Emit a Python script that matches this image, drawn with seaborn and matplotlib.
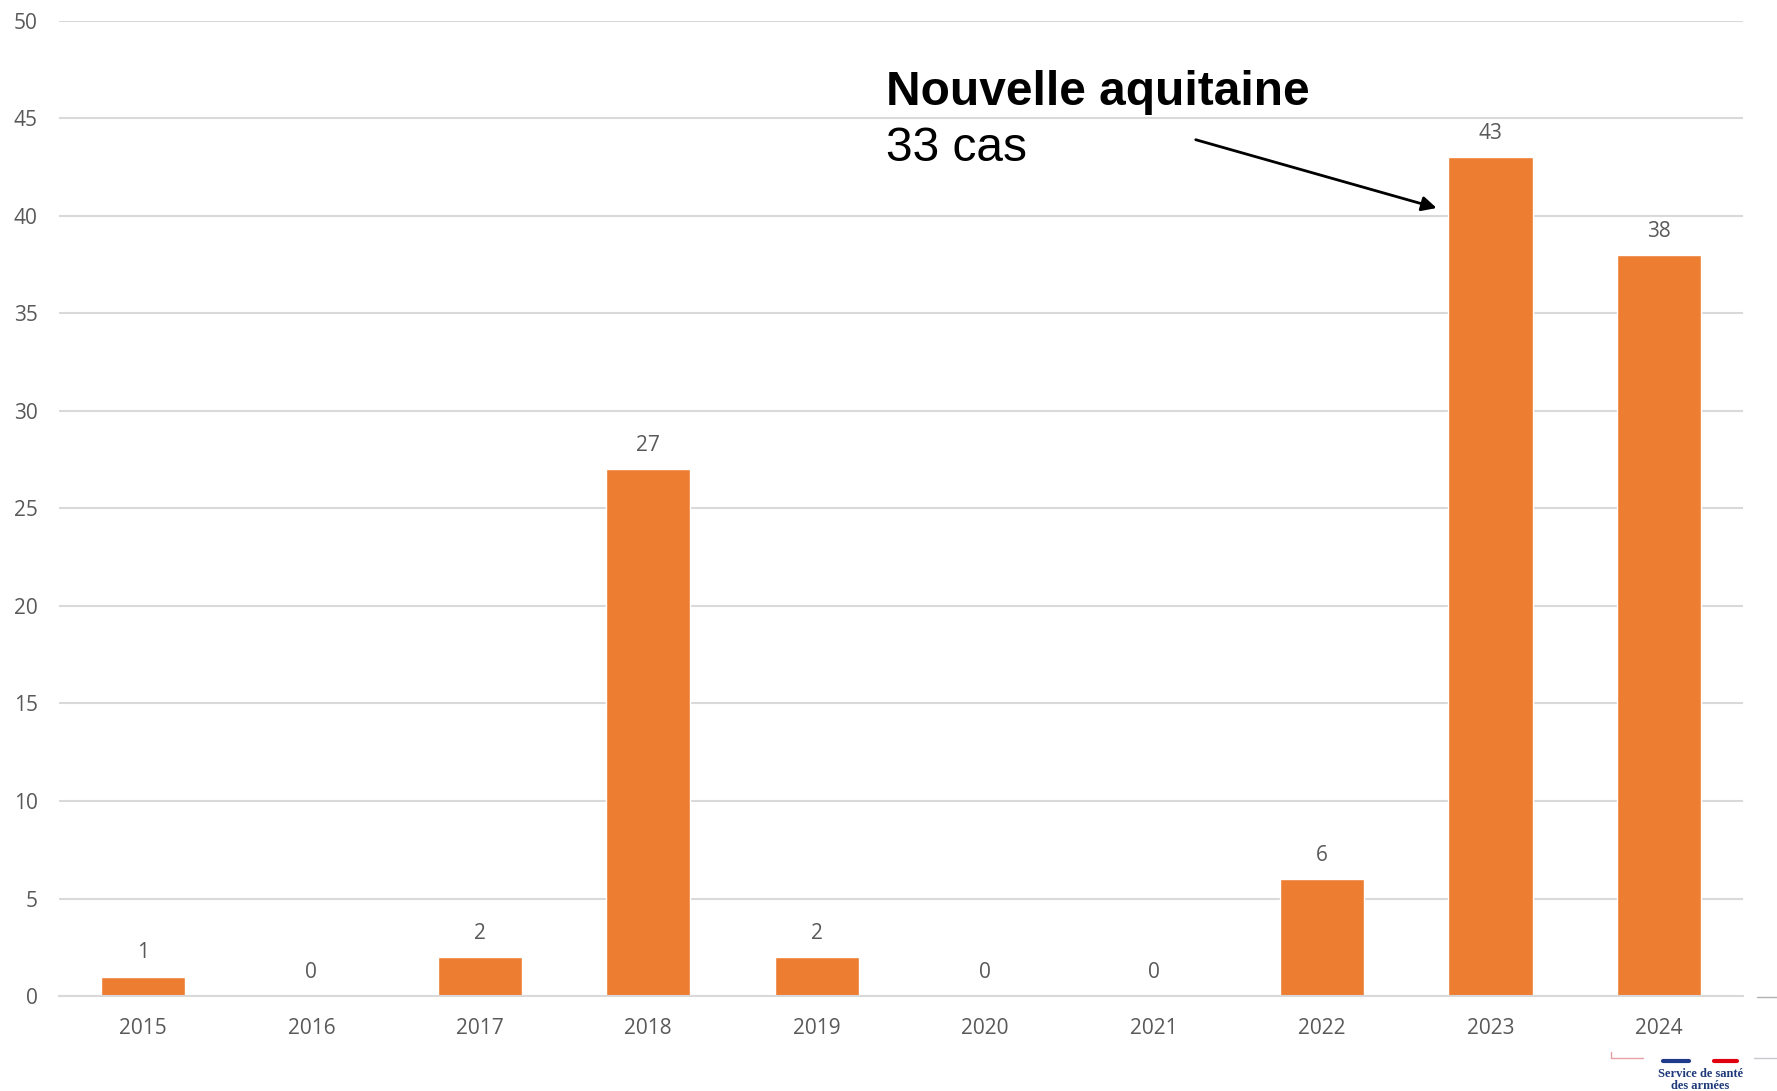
import matplotlib.pyplot as plt
import matplotlib.lines as mlines
import pandas as pd
import seaborn as sns

# Données : cas par année
annees = ['2015', '2016', '2017', '2018', '2019', '2020', '2021', '2022', '2023', '2024']
cas = [1, 0, 2, 27, 2, 0, 0, 6, 43, 38]

df = pd.DataFrame({'Année': annees, 'Cas': cas})

sns.set_theme(style="white")
plt.rcParams['font.family'] = ['Open Sans', 'DejaVu Sans']

fig = plt.figure(figsize=(17.77, 10.91), dpi=100)
ax = fig.add_axes([0.033, 0.087, 0.948, 0.894])

ax = sns.barplot(x='Année', y='Cas', data=df, color='#ED7D31', width=0.5,
                 saturation=1, ax=ax)

for container in ax.containers:
    ax.bar_label(container, fmt='%d', padding=9.5, fontsize=15, color='#595959')

ax.set_ylim(0, 50)
ax.set_xlim(-0.5, 9.5)
ax.set_yticks(range(0, 51, 5))
ax.yaxis.grid(True, color='#D9D9D9', linewidth=1.5)
ax.set_axisbelow(True)
ax.set_xlabel('')
ax.set_ylabel('')
for side in ['left', 'right', 'top']:
    ax.spines[side].set_visible(False)
ax.spines['bottom'].set_color('#D9D9D9')
ax.spines['bottom'].set_linewidth(1.5)
ax.tick_params(axis='both', length=0, labelsize=15, labelcolor='#595959')
ax.tick_params(axis='y', pad=15)
ax.tick_params(axis='x', pad=16)

# Annotation Nouvelle aquitaine
ax.text(4.41, 45.7, 'Nouvelle aquitaine', fontsize=34.5, fontweight='bold',
        family=['Liberation Sans', 'DejaVu Sans'], color='black', va='baseline')
ax.text(4.41, 42.8, '33 cas', fontsize=34.5,
        family=['Liberation Sans', 'DejaVu Sans'], color='black', va='baseline')
ax.annotate('', xy=(7.68, 40.4), xytext=(6.25, 43.9),
            arrowprops=dict(arrowstyle='-|>', color='black', lw=2,
                            mutation_scale=22, shrinkA=0, shrinkB=0))

# Logo en bas à droite
fig.text(0.957, 1 - 1068 / 1091, 'Service de santé\ndes armées', ha='center', va='top',
         fontsize=9, fontweight='bold', color='#1F3A7A',
         family=['Liberation Serif', 'DejaVu Serif'], linespacing=1.05)
W, H = 1777, 1091
def fline(x0, y0, x1, y1, color, lw):
    fig.add_artist(mlines.Line2D([x0 / W, x1 / W], [1 - y0 / H, 1 - y1 / H],
                                 color=color, lw=lw, transform=fig.transFigure))
fline(1663, 1061, 1689, 1061, '#1F3A8A', 3)
fline(1714, 1061, 1737, 1061, '#E1000F', 3)
fline(1611, 1058, 1643, 1058, '#E8A0A8', 1)
fline(1611, 1052, 1611, 1058, '#E8A0A8', 1)
fline(1754, 1058, 1777, 1058, '#C8C8D0', 1)
fline(1757, 997, 1777, 997, '#B0B0B0', 1)

plt.savefig('out.png', dpi=100)
